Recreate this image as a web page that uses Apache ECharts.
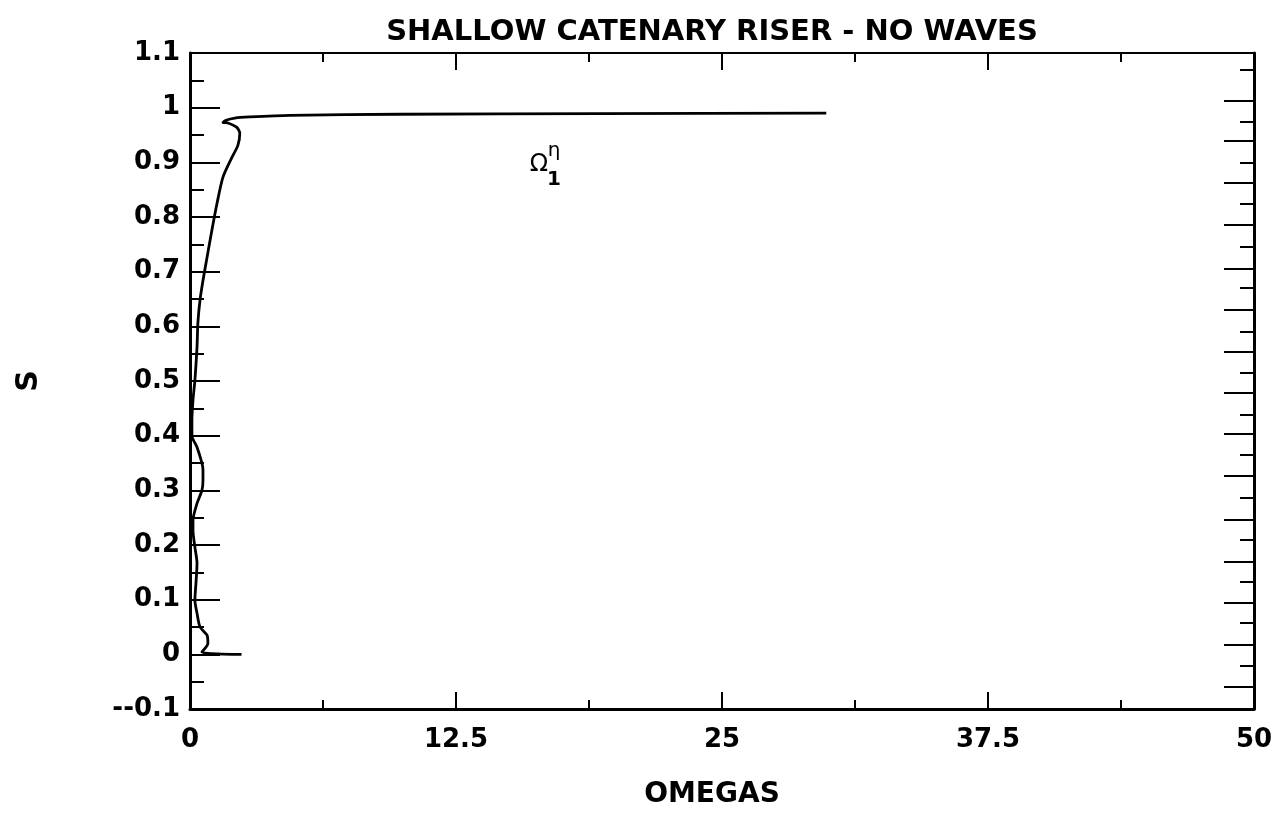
<!DOCTYPE html>
<html>
<head>
<meta charset="utf-8">
<script src="https://cdn.jsdelivr.net/npm/echarts@6/dist/echarts.min.js"></script>
<style>
  html, body { margin: 0; padding: 0; background: #fff; }
  #chart { width: 1288px; height: 820px; }
</style>
</head>
<body>
<div id="chart"></div>
<script>
// Chart text
const chartTitle = 'SHALLOW CATENARY RISER - NO WAVES';
const xAxisName = 'OMEGAS';
const yAxisName = 'S';

// Omega along the riser (x) against arc-length position S (y), in path order
const omegaValues = [2.42, 0.56, 0.84, 0.80, 0.47, 0.33, 0.23, 0.28, 0.33, 0.23, 0.14, 0.14, 0.33, 0.56, 0.61, 0.61,
  0.56, 0.33, 0.09, 0.09, 0.14, 0.23, 0.33, 0.37, 0.47, 0.61, 0.80, 1.03, 1.27, 1.55, 1.97, 2.25, 2.34, 2.20,
  1.78, 1.55, 1.69, 2.11, 2.81, 4.69, 9.84, 19.2, 29.9];
const sValues = [0.000, 0.004, 0.020, 0.035, 0.050, 0.075, 0.099, 0.130, 0.167, 0.196, 0.227, 0.245, 0.276, 0.300, 0.318, 0.337,
  0.350, 0.379, 0.400, 0.428, 0.465, 0.501, 0.562, 0.606, 0.648, 0.684, 0.726, 0.776, 0.825, 0.873, 0.909, 0.931, 0.953, 0.964,
  0.972, 0.973, 0.977, 0.981, 0.983, 0.986, 0.988, 0.989, 0.990];

// Axis ranges and tick spacing
const xMin = 0, xMax = 50, xStep = 12.5;
const yMin = -0.1, yMax = 1.1, yStep = 0.1;

// Right-hand frame tick marks (S units)
const rightMajorTicks = [1.012, 0.939, 0.862, 0.785, 0.706, 0.631, 0.553, 0.478, 0.404, 0.326, 0.247, 0.170, 0.095, 0.018, -0.059];
const rightMinorTicks = [1.070, 0.975, 0.900, 0.825, 0.745, 0.670, 0.591, 0.516, 0.439, 0.365, 0.287, 0.210, 0.133, 0.057, -0.021];

// Curve annotation position (data units)
const annotationAt = [16.4, 0.895];

const curve = omegaValues.map((w, i) => [w, sValues[i]]);

const FONT = 'DejaVu Sans';
const ink = '#000';

const chart = echarts.init(document.getElementById('chart'), null, { renderer: 'canvas' });

function yLabel(v) {
  const r = Math.round(v * 10) / 10;
  if (Math.abs(r) < 1e-9) return '0';
  if (Math.abs(r - 1) < 1e-9) return '1';
  if (r < 0) return '--' + Math.abs(r).toFixed(1);
  return r.toFixed(1);
}
function xLabel(v) {
  return String(Math.round(v * 10) / 10);
}

const option = {
  backgroundColor: '#fff',
  animation: false,
  title: {
    text: chartTitle,
    left: 707,
    textAlign: 'center',
    top: 13,
    textStyle: { fontFamily: FONT, fontWeight: 'bold', fontSize: 29, color: ink }
  },
  grid: { left: 190, right: 34, top: 53, bottom: 111, containLabel: false },
  xAxis: [
    {
      type: 'value', min: xMin, max: xMax, interval: xStep,
      position: 'bottom',
      name: xAxisName, nameLocation: 'middle', nameGap: 72,
      nameTextStyle: { fontFamily: FONT, fontWeight: 'bold', fontSize: 28, color: ink, padding: [0, 20, 0, 0] },
      axisLine: { show: true, onZero: false, lineStyle: { color: ink, width: 3 } },
      axisTick: { show: true, inside: true, length: 17, lineStyle: { color: ink, width: 2 } },
      minorTick: { show: true, splitNumber: 2, length: 9, lineStyle: { color: ink, width: 2 } },
      axisLabel: { margin: 18, formatter: xLabel, fontFamily: FONT, fontWeight: 'bold', fontSize: 26, color: ink },
      splitLine: { show: false }
    },
    {
      type: 'value', min: xMin, max: xMax, interval: xStep,
      position: 'top',
      axisLine: { show: true, onZero: false, lineStyle: { color: ink, width: 2 } },
      axisTick: { show: true, inside: true, length: 17, lineStyle: { color: ink, width: 2 } },
      minorTick: { show: true, splitNumber: 2, length: 9, lineStyle: { color: ink, width: 2 } },
      axisLabel: { show: false },
      splitLine: { show: false }
    }
  ],
  yAxis: [
    {
      type: 'value', min: yMin, max: yMax, interval: yStep,
      position: 'left',
      name: yAxisName, nameLocation: 'middle', nameGap: 146,
      nameTextStyle: { fontFamily: FONT, fontWeight: 'bold', fontSize: 30, color: ink },
      axisLine: { show: true, onZero: false, lineStyle: { color: ink, width: 3 } },
      axisTick: { show: true, inside: true, length: 30, lineStyle: { color: ink, width: 2 } },
      minorTick: { show: true, splitNumber: 2, length: 14, lineStyle: { color: ink, width: 2 } },
      axisLabel: { margin: 10, formatter: yLabel, fontFamily: FONT, fontWeight: 'bold', fontSize: 26, color: ink },
      splitLine: { show: false }
    },
    {
      type: 'value', min: yMin, max: yMax,
      position: 'right', offset: 0,
      axisLine: { show: true, onZero: false, lineStyle: { color: ink, width: 3 } },
      axisTick: { show: true, inside: true, length: 30, customValues: rightMajorTicks, lineStyle: { color: ink, width: 2 } },
      axisLabel: { show: false },
      splitLine: { show: false }
    },
    {
      type: 'value', min: yMin, max: yMax,
      position: 'right', offset: 0,
      axisLine: { show: false, onZero: false },
      axisTick: { show: true, inside: true, length: 14, customValues: rightMinorTicks, lineStyle: { color: ink, width: 2 } },
      axisLabel: { show: false },
      splitLine: { show: false }
    }
  ],
  series: [
    {
      type: 'line',
      name: 'omega',
      xAxisIndex: 0, yAxisIndex: 0,
      data: curve,
      showSymbol: false,
      smooth: 0.25,
      lineStyle: { color: ink, width: 2.8 },
      clip: true
    }
  ]
};

chart.setOption(option);

// Curve label: Omega with superscript eta and subscript 1
const p = chart.convertToPixel({ xAxisIndex: 0, yAxisIndex: 0 }, annotationAt);
chart.setOption({
  graphic: [
    {
      type: 'group', x: p[0], y: p[1],
      children: [
        { type: 'text', x: 0, y: 0, style: { text: 'Ω', font: '24px "DejaVu Sans"', fill: ink, align: 'center', verticalAlign: 'middle' } },
        { type: 'text', x: 15, y: -14, style: { text: 'η', font: '20px "DejaVu Sans"', fill: ink, align: 'center', verticalAlign: 'middle' } },
        { type: 'text', x: 15, y: 15, style: { text: '1', font: 'bold 20px "DejaVu Sans"', fill: ink, align: 'center', verticalAlign: 'middle' } }
      ]
    }
  ]
});
</script>
</body>
</html>
